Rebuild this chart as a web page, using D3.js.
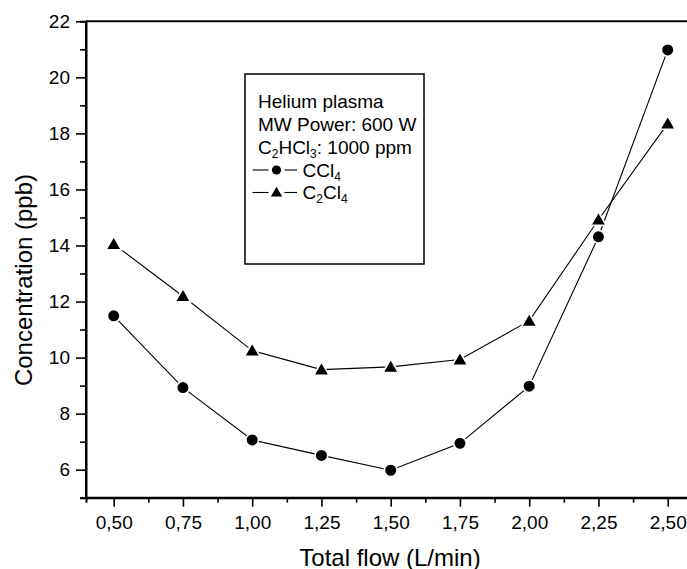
<!DOCTYPE html>
<html>
<head>
<meta charset="utf-8">
<script src="https://cdn.jsdelivr.net/npm/d3@7"></script>
<style>
  html, body { margin: 0; padding: 0; background: #fff; }
  svg { display: block; font-family: Arial, "Liberation Sans", sans-serif; }
</style>
</head>
<body>
<svg id="chart" width="687" height="569"></svg>
<script>
// Total gas flow (L/min)
const flows = [0.50, 0.75, 1.00, 1.25, 1.50, 1.75, 2.00, 2.25, 2.50];
// By-product concentrations (ppb)
const ccl4 = [11.49, 8.93, 7.06, 6.51, 5.98, 6.94, 8.98, 14.31, 20.98];
const c2cl4 = [14.05, 12.19, 10.25, 9.57, 9.67, 9.93, 11.31, 14.92, 18.35];
const xTicks = [0.50, 0.75, 1.00, 1.25, 1.50, 1.75, 2.00, 2.25, 2.50];
const yTicks = [6, 8, 10, 12, 14, 16, 18, 20, 22];

const svg = d3.select("#chart");
const plotL = 86, plotR = 695.4, plotT = 21.3, plotB = 497.7;

const x = d3.scaleLinear().domain([0.4, 2.6]).range([plotL, plotR]);
const y = d3.scaleLinear().domain([5, 22]).range([plotB, plotT]);
const fmt = d => d.toFixed(2).replace(".", ",");

// Frame (top and right edges)
svg.append("path")
  .attr("d", `M${plotL},${plotT}H${plotR}V${plotB}`)
  .attr("fill", "none").attr("stroke", "#000").attr("stroke-width", 2);

// X axis: major ticks labelled, minor ticks in between
const xMinor = d3.range(0.5, 2.6, 0.125).filter((v, i) => i % 2 === 1);
const gxMinor = svg.append("g").attr("transform", `translate(0,${plotB})`)
  .call(d3.axisBottom(x).tickValues(xMinor).tickSize(5).tickFormat(""));
const gx = svg.append("g").attr("transform", `translate(0,${plotB})`)
  .call(d3.axisBottom(x).tickValues(xTicks).tickSize(9).tickPadding(9).tickFormat(fmt));

// Y axis
const yMinor = d3.range(5, 22.1, 1).filter(v => v % 2 === 1);
const gyMinor = svg.append("g").attr("transform", `translate(${plotL},0)`)
  .call(d3.axisLeft(y).tickValues(yMinor).tickSize(6).tickFormat(""));
const gy = svg.append("g").attr("transform", `translate(${plotL},0)`)
  .call(d3.axisLeft(y).tickValues(yTicks).tickSize(10).tickPadding(6).tickFormat(d3.format("d")));

[gx, gy, gxMinor, gyMinor].forEach(g => {
  g.select(".domain").attr("stroke-width", 2);
  g.selectAll(".tick line").attr("stroke-width", 1.6);
  g.selectAll("text").attr("font-size", 19).attr("fill", "#000")
    .attr("font-family", "Arial, 'Liberation Sans', sans-serif");
});
gx.select(".domain").attr("d", `M${plotL},0H${plotR}`);
gy.select(".domain").attr("d", `M0,${plotB}V${plotT}`);

// Axis titles
svg.append("text").attr("x", 390).attr("y", 565.5).attr("text-anchor", "middle")
  .attr("font-size", 24).text("Total flow (L/min)");
svg.append("text").attr("transform", "translate(31.5,280) rotate(-90)")
  .attr("text-anchor", "middle").attr("font-size", 24).text("Concentration (ppb)");

// Series
const line = d3.line().x((d, i) => x(flows[i])).y(d => y(d));
const triangle = d3.symbol().type(d3.symbolTriangle).size(105);

function series(values, marker) {
  svg.append("path").datum(values).attr("d", line)
    .attr("fill", "none").attr("stroke", "#000").attr("stroke-width", 1.1);
  const g = svg.append("g");
  values.forEach((v, i) => {
    if (marker === "circle") {
      g.append("circle").attr("cx", x(flows[i])).attr("cy", y(v)).attr("r", 6.3)
        .attr("fill", "#000").attr("stroke", "#fff").attr("stroke-width", 1.6);
    } else {
      g.append("path").attr("d", triangle)
        .attr("transform", `translate(${x(flows[i])},${y(v) + 1.2})`)
        .attr("fill", "#000").attr("stroke", "#fff").attr("stroke-width", 1.6);
    }
  });
}
series(ccl4, "circle");
series(c2cl4, "triangle");

// Legend box
const lg = svg.append("g");
lg.append("rect").attr("x", 245).attr("y", 74).attr("width", 179).attr("height", 190)
  .attr("fill", "#fff").attr("stroke", "#000").attr("stroke-width", 1.5);

const fs = 19, sub = 12, subDy = 4;

// Writes a text of [string, isSubscript] parts into a text element
function richText(t, parts) {
  let shifted = false;
  parts.forEach(([s, isSub]) => {
    let dy = 0;
    if (isSub && !shifted) { dy = subDy; shifted = true; }
    else if (!isSub && shifted) { dy = -subDy; shifted = false; }
    t.append("tspan").attr("font-size", isSub ? sub : fs).attr("dy", dy).text(s);
  });
}

lg.append("text").attr("x", 258).attr("y", 107.5).attr("font-size", fs).text("Helium plasma");
lg.append("text").attr("x", 258).attr("y", 130.5).attr("font-size", fs).text("MW Power: 600 W");
richText(lg.append("text").attr("x", 258).attr("y", 153.5).attr("font-size", fs),
  [["C", false], ["2", true], ["HCl", false], ["3", true], [": 1000 ppm", false]]);

function legendRow(cy, marker, parts) {
  lg.append("line").attr("x1", 252.5).attr("x2", 268.5).attr("y1", cy).attr("y2", cy)
    .attr("stroke", "#000").attr("stroke-width", 1.1);
  lg.append("line").attr("x1", 284.5).attr("x2", 297).attr("y1", cy).attr("y2", cy)
    .attr("stroke", "#000").attr("stroke-width", 1.1);
  if (marker === "circle") {
    lg.append("circle").attr("cx", 276.5).attr("cy", cy).attr("r", 4.6).attr("fill", "#000");
  } else {
    lg.append("path").attr("d", d3.symbol().type(d3.symbolTriangle).size(55))
      .attr("transform", `translate(276.5,${cy + 0.8})`).attr("fill", "#000");
  }
  richText(lg.append("text").attr("x", 302.5).attr("y", cy + 6.5).attr("font-size", fs), parts);
}
legendRow(170, "circle", [["CCl", false], ["4", true]]);
legendRow(192.5, "triangle", [["C", false], ["2", true], ["Cl", false], ["4", true]]);
</script>
</body>
</html>
